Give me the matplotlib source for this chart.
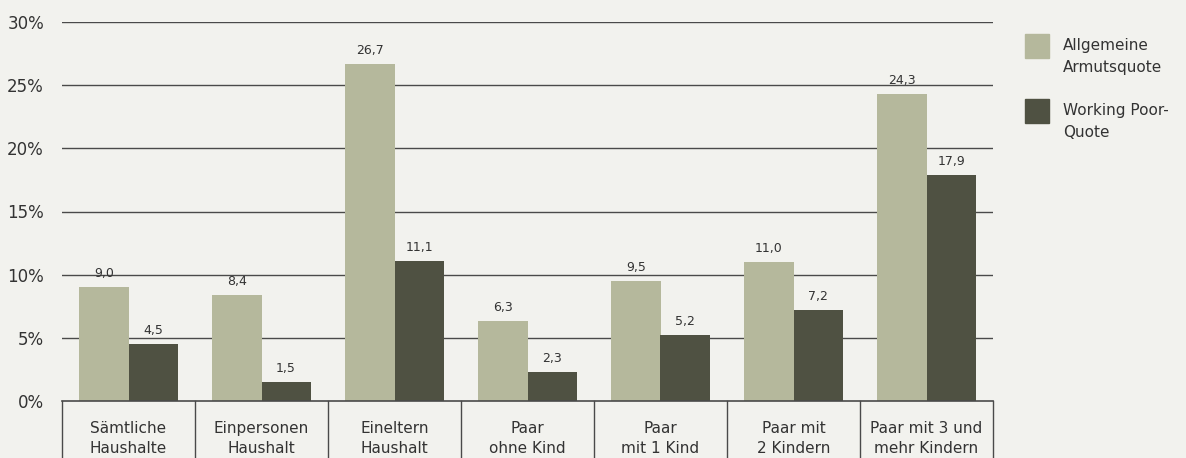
import matplotlib.pyplot as plt
from matplotlib.patches import Rectangle
import numpy as np

# Daten
categories = ['Sämtliche\nHaushalte', 'Einpersonen\nHaushalt', 'Eineltern\nHaushalt',
              'Paar\nohne Kind', 'Paar\nmit 1 Kind', 'Paar mit\n2 Kindern',
              'Paar mit 3 und\nmehr Kindern']
armutsquote = [9.0, 8.4, 26.7, 6.3, 9.5, 11.0, 24.3]
working_poor = [4.5, 1.5, 11.1, 2.3, 5.2, 7.2, 17.9]
y_ticks = [0, 5, 10, 15, 20, 25, 30]
series_names = ['Allgemeine\nArmutsquote', 'Working Poor-\nQuote']

BG = '#f2f2ee'
LIGHT = '#b5b89c'
DARK = '#4f5142'
TXT = '#333333'
LINE = '#4a4a4a'

plt.rcParams['font.family'] = ['DejaVu Sans']

fig = plt.figure(figsize=(11.86, 4.58), dpi=100, facecolor=BG)
ax = fig.add_axes([62 / 1186, 57 / 458, 931 / 1186, 379 / 458])
ax.set_facecolor(BG)

x = np.arange(len(categories))
w = 0.37
b1 = ax.bar(x - w / 2, armutsquote, w, color=LIGHT, zorder=3)
b2 = ax.bar(x + w / 2, working_poor, w, color=DARK, zorder=3)

for bars, vals in [(b1, armutsquote), (b2, working_poor)]:
    for rect, v in zip(bars, vals):
        ax.annotate(f'{v:.1f}'.replace('.', ','),
                    (rect.get_x() + rect.get_width() / 2, rect.get_height()),
                    xytext=(0, 5), textcoords='offset points',
                    ha='center', va='bottom', fontsize=9, color=TXT, zorder=4)

# Gitterlinien
for t in y_ticks[1:]:
    ax.axhline(t, color=LINE, linewidth=1.0, zorder=1)

ax.set_xlim(-0.5, len(categories) - 0.5)
ax.set_ylim(0, 30)
ax.set_yticks(y_ticks)
ax.set_yticklabels([f'{t}%' for t in y_ticks], fontsize=12, color=TXT)
ax.tick_params(axis='y', length=0, pad=13)
ax.set_xticks([])
for s in ax.spines.values():
    s.set_visible(False)

# Kategorie-Boxen unten
ax.plot([-0.5, len(categories) - 0.5], [0, 0], color=LINE, linewidth=1.2,
        clip_on=False, zorder=5)
for i in range(len(categories) + 1):
    ax.plot([i - 0.5, i - 0.5], [0, -4.6], color=LINE, linewidth=1.0,
            clip_on=False, zorder=5)
for i, c in enumerate(categories):
    ax.text(i, -2.95, c, ha='center', va='center', fontsize=11, color=TXT,
            linespacing=1.4, clip_on=False)

# Legende
for j, (name, col) in enumerate(zip(series_names, [LIGHT, DARK])):
    y0 = 458 - 58 - j * 65
    fig.patches.append(Rectangle((1025 / 1186, y0 / 458), 24 / 1186, 24 / 458,
                                 transform=fig.transFigure, color=col))
    fig.text(1063 / 1186, (y0 + 24) / 458 - 4 / 458, name, ha='left', va='top',
             fontsize=11, color=TXT, linespacing=1.6)

fig.savefig('out.png', dpi=100, facecolor=BG)
